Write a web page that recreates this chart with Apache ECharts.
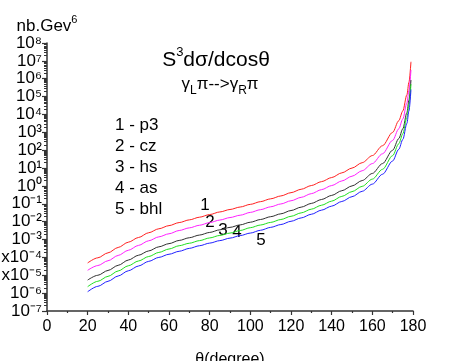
<!DOCTYPE html>
<html>
<head>
<meta charset="utf-8">
<script src="https://cdn.jsdelivr.net/npm/echarts@6/dist/echarts.min.js"></script>
<style>
html, body { margin: 0; padding: 0; background: #fff; }
#chart { width: 450px; height: 361px; }
</style>
</head>
<body>
<div id="chart"></div>
<script>
// angle in degrees
var angles = [20, 25, 30, 35, 40, 45, 50, 55, 60, 65, 70, 75, 80, 85, 90, 95, 100, 105, 110, 115,
  120, 125, 130, 135, 140, 145, 150, 155, 160, 165, 170, 173, 175, 177, 178, 179];

// S^3 dsigma/dcos(theta), nb.GeV^6
var p3 = [4.9e-5, 9.5e-5, 1.8e-4, 3.6e-4, 7.1e-4, 1.3e-3, 2.4e-3, 4.0e-3, 6.0e-3, 8.9e-3,
  1.26e-2, 1.78e-2, 2.5e-2, 3.5e-2, 4.8e-2, 6.6e-2, 9.3e-2, 0.132, 0.19, 0.275,
  0.42, 0.65, 1.05, 1.74, 2.95, 5.4, 10, 20, 50, 178, 1000, 4470, 1.58e4, 1.26e5, 6.3e5, 8.9e6];
var cz = [1.9e-5, 3.5e-5, 6.5e-5, 1.29e-4, 2.5e-4, 4.7e-4, 8.5e-4, 1.41e-3, 2.1e-3, 3.2e-3,
  4.5e-3, 6.3e-3, 8.9e-3, 1.23e-2, 1.7e-2, 2.3e-2, 3.3e-2, 4.7e-2, 6.8e-2, 9.8e-2,
  0.148, 0.23, 0.37, 0.62, 1.05, 1.9, 3.5, 7.1, 17.8, 63, 355, 1580, 5600, 4.5e4, 2.2e5, 3.1e6];
var hs = [5.4e-6, 1.0e-5, 1.86e-5, 3.6e-5, 7.1e-5, 1.32e-4, 2.3e-4, 3.9e-4, 5.9e-4, 8.9e-4,
  1.26e-3, 1.78e-3, 2.5e-3, 3.5e-3, 4.8e-3, 6.6e-3, 9.3e-3, 1.32e-2, 1.9e-2, 2.75e-2,
  4.2e-2, 6.5e-2, 0.105, 0.174, 0.295, 0.54, 1.0, 2.0, 5.0, 17.8, 100, 447, 1580, 1.26e4, 6.3e4, 8.5e5];
var asv = [2.3e-6, 4.6e-6, 8.7e-6, 1.74e-5, 3.4e-5, 6.3e-5, 1.12e-4, 1.9e-4, 2.95e-4, 4.5e-4,
  6.2e-4, 8.7e-4, 1.23e-3, 1.7e-3, 2.3e-3, 3.2e-3, 4.6e-3, 6.5e-3, 9.1e-3, 1.32e-2,
  2.0e-2, 3.1e-2, 5.0e-2, 8.3e-2, 0.141, 0.26, 0.48, 0.95, 2.4, 8.5, 50, 229, 830, 6800, 3.5e4, 5.0e5];
var bhl = [1.2e-6, 2.4e-6, 4.6e-6, 9.1e-6, 1.78e-5, 3.3e-5, 6.0e-5, 1.0e-4, 1.5e-4, 2.2e-4,
  3.2e-4, 4.5e-4, 6.3e-4, 8.7e-4, 1.2e-3, 1.66e-3, 2.3e-3, 3.3e-3, 4.8e-3, 6.9e-3,
  1.05e-2, 1.62e-2, 2.6e-2, 4.4e-2, 7.4e-2, 0.135, 0.25, 0.5, 1.26, 4.5, 25, 112, 400, 3200, 1.58e4, 2.5e5];

var seriesNames = ['1 - p3', '2 - cz', '3 - hs', '4 - as', '5 - bhl'];
var seriesColors = ['#ff2020', '#ff20ff', '#303030', '#20e020', '#2020ff'];
var curveLabels = ['1', '2', '3', '4', '5'];

// decades shown on the y axis (powers of ten)
var yMinExp = -7, yMaxExp = 8;

var font = '"Liberation Sans", Arial, sans-serif';
var supChars = { '0': '⁰', '1': '¹', '2': '²', '3': '³', '4': '⁴', '5': '⁵', '6': '⁶', '7': '⁷', '8': '⁸', '9': '⁹', '-': '⁻' };

function toPairs(vals) {
  return angles.map(function (a, i) { return [a, Math.log10(vals[i])]; });
}

function sup(n) {
  return String(n).split('').map(function (c) { return supChars[c]; }).join('');
}

// log spaced minor ticks 2..9 inside each decade
var minorTicks = [];
for (var e = yMinExp; e < yMaxExp; e++) {
  for (var k = 2; k <= 9; k++) minorTicks.push(e + Math.log10(k));
}

var chart = echarts.init(document.getElementById('chart'));

var allData = [p3, cz, hs, asv, bhl];
var series = allData.map(function (d, i) {
  return {
    name: seriesNames[i],
    type: 'line',
    data: toPairs(d),
    showSymbol: false,
    smooth: 0.3,
    smoothMonotone: 'x',
    lineStyle: { color: seriesColors[i], width: 1 },
    itemStyle: { color: seriesColors[i] },
    silent: true,
    animation: false
  };
});

var labelPos = [[205, 205], [210, 222], [223, 230], [237, 232], [261, 240]];
var graphics = [
  {
    type: 'text', x: 216, y: 60,
    style: {
      text: '{m|S}{sup|3}{m|dσ/dcosθ}', fill: '#000',
      align: 'center', verticalAlign: 'middle',
      rich: {
        m: { fontSize: 21, fontFamily: font, lineHeight: 26 },
        sup: { fontSize: 13, fontFamily: font, verticalAlign: 'top', height: 10, lineHeight: 10 }
      }
    }
  },
  {
    type: 'text', x: 220, y: 84,
    style: {
      text: '{m|γ}{sub|L}{m|π-->γ}{sub|R}{m|π}', fill: '#000',
      align: 'center', verticalAlign: 'middle',
      rich: {
        m: { fontSize: 17, fontFamily: font, lineHeight: 20 },
        sub: { fontSize: 12, fontFamily: font, verticalAlign: 'bottom', height: 6, lineHeight: 6 }
      }
    }
  }
];
seriesNames.forEach(function (n, i) {
  graphics.push({
    type: 'text', x: 115, y: 125 + i * 21,
    style: { text: n, font: '17px ' + font, fill: '#000', verticalAlign: 'middle' }
  });
  graphics.push({
    type: 'text', x: labelPos[i][0], y: labelPos[i][1],
    style: { text: curveLabels[i], font: '17px ' + font, fill: '#000', align: 'center', verticalAlign: 'middle' }
  });
});

var option = {
  animation: false,
  backgroundColor: '#fff',
  grid: { left: 47, right: 37, top: 43, bottom: 50, containLabel: false, outerBoundsMode: 'none' },
  xAxis: {
    type: 'value', min: 0, max: 180, interval: 20,
    name: 'θ(degree)', nameLocation: 'middle', nameGap: 41,
    nameTextStyle: { fontSize: 16, fontFamily: font, color: '#000' },
    axisLine: { onZero: false, lineStyle: { color: '#333', width: 1.5 } },
    axisTick: { length: 4, lineStyle: { color: '#333', width: 1.2 } },
    minorTick: { show: true, splitNumber: 2, length: 2, lineStyle: { color: '#333', width: 1.2 } },
    axisLabel: { fontSize: 16, fontFamily: font, color: '#000', margin: 8 },
    splitLine: { show: false }
  },
  yAxis: [
    {
      type: 'value', min: yMinExp, max: yMaxExp, interval: 1, position: 'left',
      name: '{m|nb.Gev}{sup|6}', nameLocation: 'end', nameGap: 6,
      nameTextStyle: {
        color: '#000',
        rich: {
          m: { fontSize: 17, fontFamily: font, lineHeight: 22, color: '#000' },
          sup: { fontSize: 11, fontFamily: font, verticalAlign: 'top', height: 10, lineHeight: 10, color: '#000' }
        }
      },
      axisLine: { show: true, onZero: false, lineStyle: { color: '#333', width: 1.5 } },
      axisTick: { show: true, length: 5, lineStyle: { color: '#333', width: 1.2 } },
      axisLabel: {
        margin: 5, color: '#000', fontSize: 17, fontFamily: font, lineHeight: 14,
        showMinLabel: true, showMaxLabel: true, hideOverlap: false,
        formatter: function (v) {
          var pre = (v === -4 || v === -5) ? 'x' : '';
          return pre + '10' + sup(v);
        }
      },
      splitLine: { show: false }
    },
    {
      // minor ticks only: placed on the right then shifted back onto the left edge
      type: 'value', min: yMinExp, max: yMaxExp, position: 'right', offset: -366,
      axisLine: { show: false, onZero: false },
      axisLabel: { show: false },
      splitLine: { show: false },
      axisTick: { show: true, inside: true, length: 3, customValues: minorTicks, lineStyle: { color: '#333', width: 1 } }
    }
  ],
  graphic: graphics,
  series: series
};

chart.setOption(option);
</script>
</body>
</html>
